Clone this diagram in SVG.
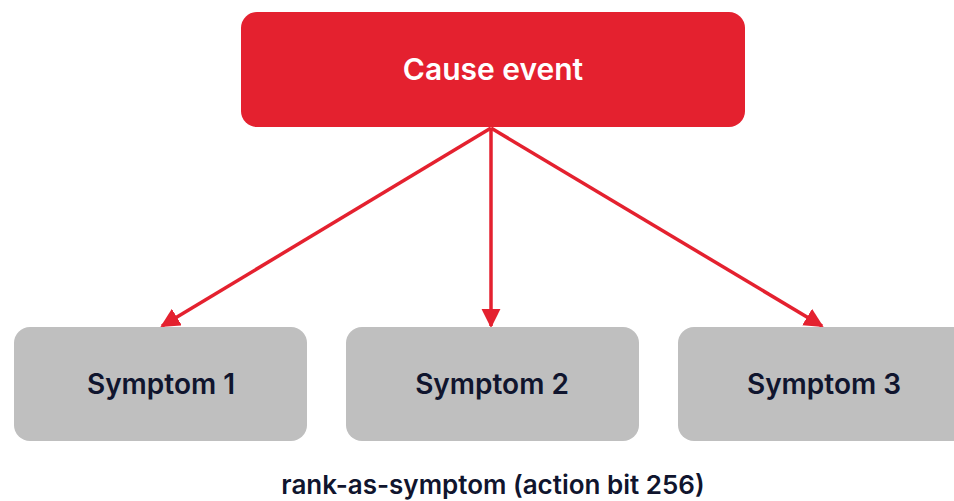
<svg xmlns="http://www.w3.org/2000/svg" width="954" height="501" viewBox="0 0 954 501">
  <defs>
    <marker id="arrow" viewBox="0 0 10 10" refX="9" refY="5" markerWidth="5.5" markerHeight="5.5" markerUnits="strokeWidth" orient="auto">
      <path d="M0,0 L10,5 L0,10 z" fill="#E4212F"/>
    </marker>
    <style>
      .cause { fill: #E4212F; }
      .symptom { fill: #BFBFBF; }
      .label { font-family: Inter, "Noto Sans", "Liberation Sans", sans-serif; font-weight: 600; text-anchor: middle; }
      .white { fill: #FFFFFF; font-size: 30px; }
      .dark { fill: #10152E; font-size: 28px; }
      .caption { fill: #10152E; font-size: 26px; }
      .edge { stroke: #E4212F; stroke-width: 3.5; fill: none; marker-end: url(#arrow); }
    </style>
  </defs>

  <g id="connectors">
    <line class="edge" x1="491" y1="128" x2="162" y2="326"/>
    <line class="edge" x1="491" y1="128" x2="491" y2="326"/>
    <line class="edge" x1="491" y1="128" x2="822" y2="326"/>
  </g>

  <g id="cause-event">
    <rect class="cause" x="241" y="12" width="504" height="115" rx="16"/>
    <text class="label white" x="493" y="80">Cause event</text>
  </g>

  <g id="symptom-1">
    <rect class="symptom" x="14" y="327" width="293" height="114" rx="16"/>
    <text class="label dark" x="161" y="394">Symptom 1</text>
  </g>

  <g id="symptom-2">
    <rect class="symptom" x="346" y="327" width="293" height="114" rx="16"/>
    <text class="label dark" x="492" y="394">Symptom 2</text>
  </g>

  <g id="symptom-3">
    <rect class="symptom" x="678" y="327" width="293" height="114" rx="16"/>
    <text class="label dark" x="824" y="394">Symptom 3</text>
  </g>

  <text class="label caption" x="493" y="494">rank-as-symptom (action bit 256)</text>
</svg>
